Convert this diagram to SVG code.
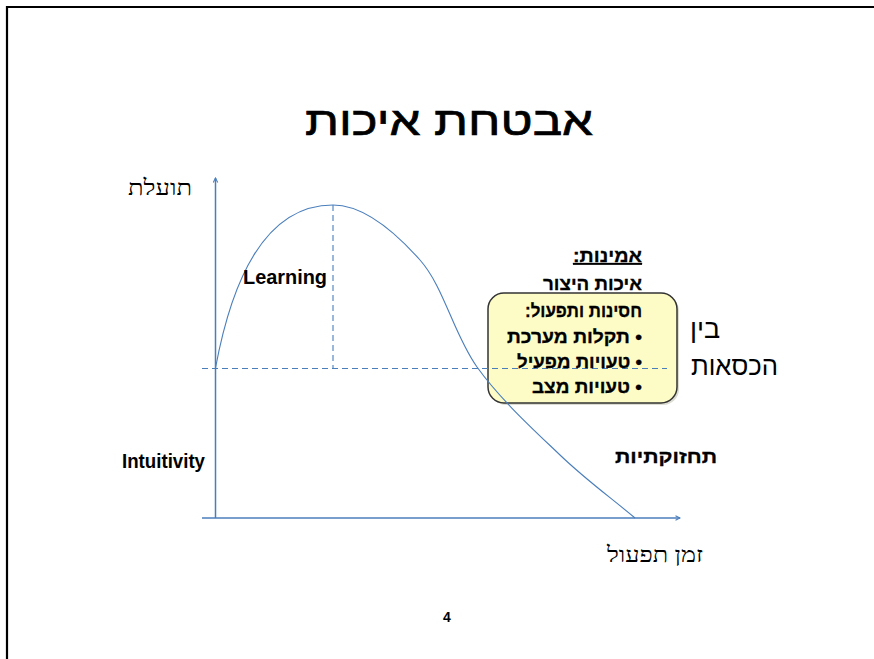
<svg xmlns="http://www.w3.org/2000/svg" width="874" height="659" viewBox="0 0 874 659">
<defs>
<style>
.sans{font-family:"Liberation Sans","DejaVu Sans",sans-serif;fill:#000}
.serif{font-family:"Liberation Serif","DejaVu Serif",serif;fill:#000}
.b{font-weight:bold}
.hb{font-family:"Liberation Sans","DejaVu Sans",sans-serif;font-weight:bold;font-size:18px;fill:#000;stroke:#000;stroke-width:0.3}
.axis{stroke:#4a7ebb;stroke-width:1.5;fill:none}
.curve{stroke:#4a7ebb;stroke-width:1.1;fill:none}
.dash{stroke:#4a7ebb;stroke-width:1.1;fill:none;stroke-dasharray:6 4}
</style>
<marker id="arr" viewBox="0 0 8 8" refX="7" refY="4" markerWidth="6" markerHeight="6" orient="auto" markerUnits="userSpaceOnUse">
<path d="M1,1 L7,4 L1,7" fill="none" stroke="#4a7ebb" stroke-width="1.4"/>
</marker>
</defs>
<rect width="874" height="659" fill="#fff"/>
<path d="M7,662 V7 H878" fill="none" stroke="#000" stroke-width="2.2"/>

<g id="title"><text class="sans" x="305" y="135" font-size="40" textLength="288" lengthAdjust="spacingAndGlyphs" stroke="#000" stroke-width="0.7">אבטחת איכות</text></g>

<g id="box">
<rect x="490" y="295" width="189" height="110" rx="16" fill="#9a9a80" opacity="0.35"/>
<rect x="488" y="293" width="189" height="110" rx="16" fill="#fdfcc6" stroke="#333" stroke-width="1.5"/>
</g>

<g id="connectors">
<line class="axis" x1="215.5" y1="518" x2="215.5" y2="178" marker-end="url(#arr)"/>
<line class="axis" x1="202" y1="518" x2="680" y2="518" marker-end="url(#arr)"/>
<line class="dash" x1="202" y1="368.5" x2="667" y2="368.5"/>
<line class="dash" x1="333" y1="205" x2="333" y2="368.5"/>
<path class="curve" d="M215.5,368 C230,290 260,205 333,205 C365,205 396,233 420,260 C444,287 453.7,334.5 477,367 C500.3,399.5 533.7,429.8 560,455 C586.3,480.2 610,497 635,518"/>
</g>

<g id="y-label"><text class="serif" x="128" y="195" font-size="22" textLength="64" lengthAdjust="spacingAndGlyphs">תועלת</text></g>
<g id="x-label"><text class="serif" x="607" y="562" font-size="22" textLength="96" lengthAdjust="spacingAndGlyphs">זמן תפעול</text></g>
<g id="learning"><text class="sans b" x="243" y="284" font-size="20" textLength="84" lengthAdjust="spacingAndGlyphs">Learning</text></g>
<g id="intuitivity"><text class="sans b" x="122" y="468" font-size="20" textLength="83" lengthAdjust="spacingAndGlyphs">Intuitivity</text></g>
<g id="maintain"><text class="hb" x="615" y="463" textLength="102" lengthAdjust="spacingAndGlyphs">תחזוקתיות</text></g>

<g id="reliability">
<text class="hb" x="573" y="262" textLength="69" lengthAdjust="spacingAndGlyphs" text-decoration="underline">אמינות:&#x200F;</text>
<text class="hb" x="543" y="290" textLength="99" lengthAdjust="spacingAndGlyphs">איכות היצור</text>
<text class="hb" x="525" y="317" textLength="117" lengthAdjust="spacingAndGlyphs">חסינות ותפעול:&#x200F;</text>
<text class="hb" x="507" y="343" textLength="135" lengthAdjust="spacingAndGlyphs">&#x200F;• תקלות מערכת</text>
<text class="hb" x="517" y="368" textLength="125" lengthAdjust="spacingAndGlyphs">&#x200F;• טעויות מפעיל</text>
<text class="hb" x="532" y="393" textLength="110" lengthAdjust="spacingAndGlyphs">&#x200F;• טעויות מצב</text>
</g>

<g id="between">
<text class="sans" x="690" y="338" font-size="27">בין</text>
<text class="sans" x="691" y="375" font-size="27" textLength="87" lengthAdjust="spacingAndGlyphs">הכסאות</text>
</g>

<g id="page"><text class="sans b" x="447" y="622" font-size="14" text-anchor="middle">4</text></g>
</svg>
